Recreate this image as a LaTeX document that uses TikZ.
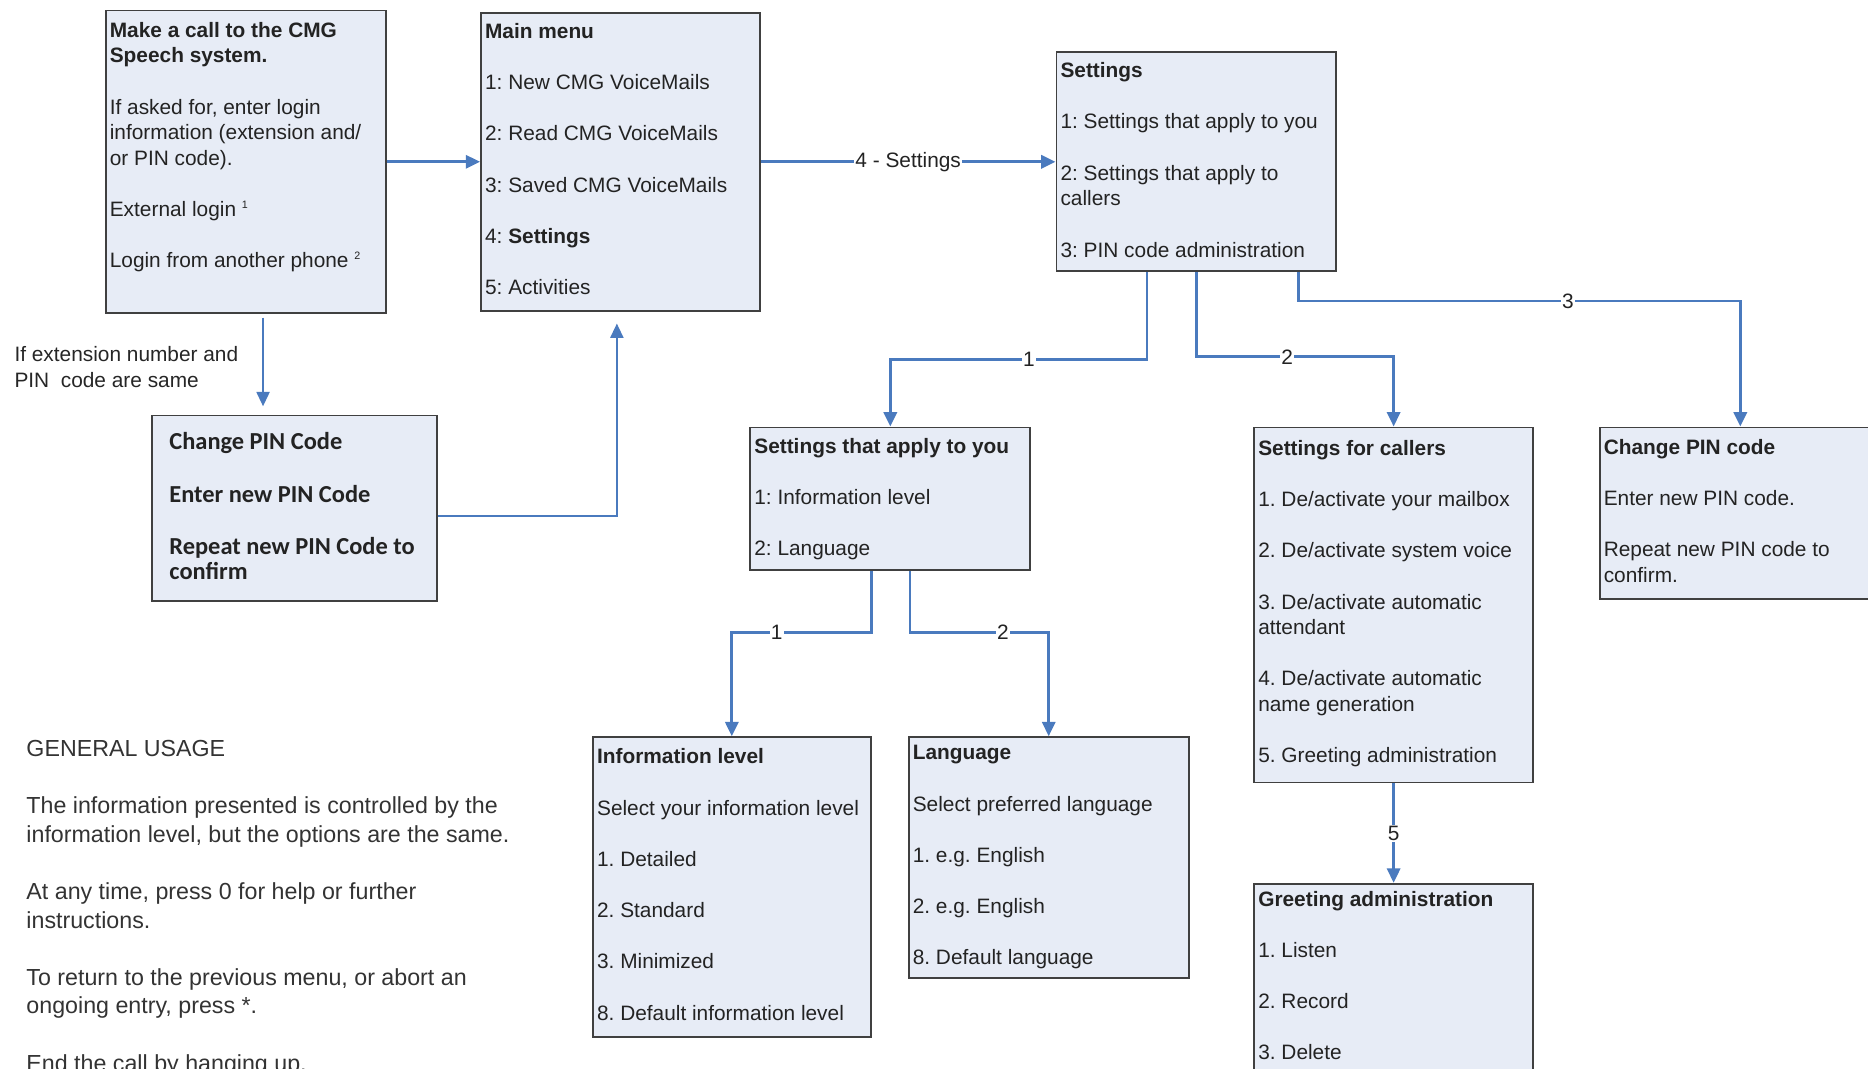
\documentclass[tikz,border=0pt]{standalone}
\usepackage{fontspec}
\setmainfont{Liberation Sans}
\newfontfamily\cpinfont{Carlito}
\usetikzlibrary{arrows.meta,positioning,calc}

\definecolor{boxfill}{RGB}{231,236,246}
\definecolor{boxline}{RGB}{64,64,64}
\definecolor{linkblue}{RGB}{74,122,190}
\definecolor{inktext}{RGB}{35,35,35}

\newcommand{\itemgap}{\\[21.5pt]}
\newcommand{\footmark}[1]{\raisebox{7pt}{\fontsize{9}{9}\selectfont #1}}

\tikzset{
	menubox/.style={draw=boxline, line width=1.6pt, fill=boxfill, anchor=north west, inner sep=0pt},
	menutext/.style={anchor=north west, align=left, inner sep=0pt, text=inktext, font=\fontsize{17.5}{21.5}\selectfont},
	link/.style={draw=linkblue, line width=2.4pt, -{Triangle[length=12pt,width=11pt]}},
	thinlink/.style={link, line width=1.5pt},
	linklabel/.style={fill=white, inner sep=1pt, text=inktext, font=\fontsize{17.5}{21.5}\selectfont}
}

\begin{document}
\frenchspacing
\begin{tikzpicture}[x=1pt,y=-1pt]
		\useasboundingbox (0,0) rectangle (1568,897);
		\clip (0,0) rectangle (1568,897);

		% Menu boxes
		\node[menubox, minimum width=235pt, minimum height=254pt] (start) at (88,8) {};
		\node[menubox, minimum width=234pt, minimum height=250pt] (main) at (403,10) {};
		\node[menubox, minimum width=235pt, minimum height=184pt] (settings) at (886,43) {};
		\node[menubox, minimum width=239pt, minimum height=156pt] (cpin) at (127,348) {};
		\node[menubox, minimum width=235pt, minimum height=120pt] (you) at (629,358) {};
		\node[menubox, minimum width=234pt, minimum height=298pt] (callers) at (1052,358) {};
		\node[menubox, minimum width=236pt, minimum height=144pt] (pin) at (1342,358) {};
		\node[menubox, minimum width=233pt, minimum height=252pt] (info) at (497,618) {};
		\node[menubox, minimum width=235pt, minimum height=202pt] (lang) at (762,618) {};
		\node[menubox, minimum width=234pt, minimum height=175pt] (greet) at (1052,741) {};

		% Box texts
		\node[menutext] (start-t) at ([shift={(4,8)}]start.north west)
		{\strut\textbf{Make a call to the CMG}\\ \textbf{Speech system.}\itemgap
		If asked for, enter login\\ information (extension and/\\ or PIN code).\itemgap
		External login \footmark{1}\itemgap
		Login from another phone \footmark{2}};
		\node[menutext] (main-t) at ([shift={(4,7)}]main.north west)
		{\strut\textbf{Main menu}\itemgap 1: New CMG VoiceMails\itemgap 2: Read CMG VoiceMails\itemgap
		3: Saved CMG VoiceMails\itemgap 4: \textbf{Settings}\itemgap 5: Activities};
		\node[menutext] (settings-t) at ([shift={(4,7)}]settings.north west)
		{\strut\textbf{Settings}\itemgap 1: Settings that apply to you\itemgap
		2: Settings that apply to\\ callers\itemgap 3: PIN code administration};
		\node[menutext, font=\cpinfont\bfseries\fontsize{20.5}{21}\selectfont] (cpin-t) at ([shift={(15,14.6)}]cpin.north west)
		{\strut Change PIN Code\\[23pt] Enter new PIN Code\\[23pt] Repeat new PIN Code to\\ confirm};
		\node[menutext] (you-t) at ([shift={(4,7)}]you.north west)
		{\strut\textbf{Settings that apply to you}\itemgap 1: Information level\itemgap 2: Language};
		\node[menutext] (callers-t) at ([shift={(4,9)}]callers.north west)
		{\strut\textbf{Settings for callers}\itemgap 1. De/activate your mailbox\itemgap
		2. De/activate system voice\itemgap 3. De/activate automatic\\ attendant\itemgap
		4. De/activate automatic\\ name generation\itemgap 5. Greeting administration};
		\node[menutext] (pin-t) at ([shift={(4,8)}]pin.north west)
		{\strut\textbf{Change PIN code}\itemgap Enter new PIN code.\itemgap Repeat new PIN code to\\ confirm.};
		\node[menutext] (info-t) at ([shift={(4,8)}]info.north west)
		{\strut\textbf{Information level}\itemgap Select your information level\itemgap 1. Detailed\itemgap
		2. Standard\itemgap 3. Minimized\itemgap 8. Default information level};
		\node[menutext] (lang-t) at ([shift={(4,4.5)}]lang.north west)
		{\strut\textbf{Language}\itemgap Select preferred language\itemgap 1. e.g. English\itemgap
		2. e.g. English\itemgap 8. Default language};
		\node[menutext] (greet-t) at ([shift={(4,4.5)}]greet.north west)
		{\strut\textbf{Greeting administration}\itemgap 1. Listen\itemgap 2. Record\itemgap 3. Delete};

		% Free notes
		\node[menutext, text=black!85, font=\fontsize{17.5}{22}\selectfont] (same-note) at (12,288)
		{\strut If extension number and\\ PIN\ \ code are same};
		\node[menutext, text=black!80, font=\fontsize{19.5}{24}\selectfont] (usage) at (22,618)
		{\strut GENERAL USAGE\\[24pt]
		The information presented is controlled by the\\ information level, but the options are the same.\\[24pt]
		At any time, press 0 for help or further\\ instructions.\\[24pt]
		To return to the previous menu, or abort an\\ ongoing entry, press *.\\[24pt]
		End the call by hanging up.};

		% Connectors
		\coordinate (cpin-in) at ([xshift=-26.5pt]cpin.north);
		\draw[link] (start.east) -- (main.west);
		\draw[link] (main.east) -- node[linklabel]{4 - Settings} (settings.west);
		\draw[thinlink, shorten <=3pt, shorten >=7pt] (start.south -| cpin-in) -- (cpin-in);
		\draw[thinlink, shorten >=10pt] ([yshift=-6pt]cpin.east) -| ([xshift=-3pt]main.south);

		\draw[link] ([xshift=-41.5pt]settings.south) -- ++(0,73) -| node[linklabel, pos=0.23]{1} (you.north);
		\draw[link] (settings.south) -- ++(0,71) -| node[linklabel, pos=0.23]{2} (callers.north);
		\draw[link] ([xshift=85.5pt]settings.south) -- ++(0,24) -| node[linklabel, pos=0.305]{3} (pin.north);

		\draw[link] ([xshift=-15.5pt]you.south) -- ++(0,51) -| node[linklabel, pos=0.34]{1} (info.north);
		\draw[link] ([xshift=16.5pt]you.south) -- ++(0,51) -| node[linklabel, pos=0.335]{2} (lang.north);

		\draw[link] (callers.south) -- node[linklabel]{5} (greet.north);
\end{tikzpicture}
\end{document}
